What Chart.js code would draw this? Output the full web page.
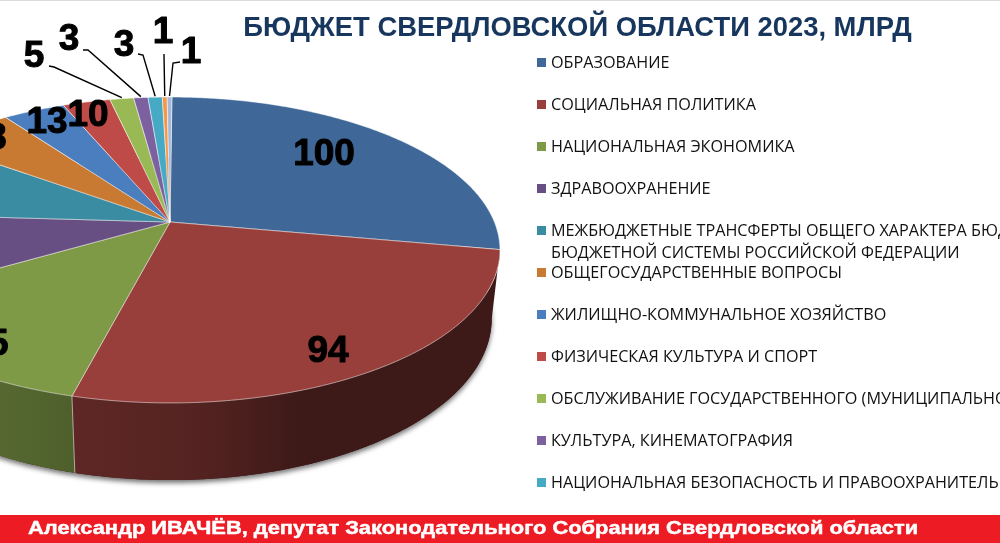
<!DOCTYPE html>
<html lang="ru">
<head>
<meta charset="utf-8">
<title>Бюджет Свердловской области 2023</title>
<script src="https://cdn.jsdelivr.net/npm/chart.js@4"></script>
<style>
  html, body { margin: 0; padding: 0; background: #fff; overflow: hidden; }
  canvas { display: block; }
</style>
</head>
<body>
<canvas id="budgetChart" width="1000" height="543"></canvas>
<script>
const chartTitle = 'БЮДЖЕТ СВЕРДЛОВСКОЙ ОБЛАСТИ 2023, МЛРД';
const footerText = 'Александр ИВАЧЁВ, депутат Законодательного Собрания Свердловской области';

const categories = [
    'ОБРАЗОВАНИЕ',
    'СОЦИАЛЬНАЯ ПОЛИТИКА',
    'НАЦИОНАЛЬНАЯ ЭКОНОМИКА',
    'ЗДРАВООХРАНЕНИЕ',
    'МЕЖБЮДЖЕТНЫЕ ТРАНСФЕРТЫ ОБЩЕГО ХАРАКТЕРА БЮДЖЕТАМ\nБЮДЖЕТНОЙ СИСТЕМЫ РОССИЙСКОЙ ФЕДЕРАЦИИ',
    'ОБЩЕГОСУДАРСТВЕННЫЕ ВОПРОСЫ',
    'ЖИЛИЩНО-КОММУНАЛЬНОЕ ХОЗЯЙСТВО',
    'ФИЗИЧЕСКАЯ КУЛЬТУРА И СПОРТ',
    'ОБСЛУЖИВАНИЕ ГОСУДАРСТВЕННОГО (МУНИЦИПАЛЬНОГО) ДОЛГА',
    'КУЛЬТУРА, КИНЕМАТОГРАФИЯ',
    'НАЦИОНАЛЬНАЯ БЕЗОПАСНОСТЬ И ПРАВООХРАНИТЕЛЬНАЯ ДЕЯТЕЛЬНОСТЬ',
    'СРЕДСТВА МАССОВОЙ ИНФОРМАЦИИ',
    'ОХРАНА ОКРУЖАЮЩЕЙ СРЕДЫ'
];
const values = [100, 94, 45, 34, 33, 18, 13, 10, 5, 3, 3, 1, 1];
const sliceColors = ['#3f6899', '#983f3c', '#7e9a47', '#674f84', '#3a8ca3', '#c87a32', '#4b7ebe',
    '#be4b48', '#98b954', '#7d60a0', '#46aac5', '#f79646', '#a5b8d8'];

// where the value labels sit (centre of the text)
const labelX = [324, 328, -12, null, null, -14, 47, 88, 34, 69, 124, 163, 191];
const labelY = [153, 350, 343, null, null, 137, 121, 114, 55, 38, 44, 31, 51];
// leader lines only for the small slices: label end and knee
const leaderStart = { 8: [49, 66], 9: [83, 50], 10: [138, 54], 11: [164, 54], 12: [180, 62] };
const leaderKnee = { 8: [54, 67], 9: [88, 50], 10: [143, 55], 11: [164, 55], 12: [173, 63] };

// perspective of the tilted disc
const pie = { cx: 170, cy: 222, k: 324.4, d: 107.2, c: -0.183, depth: 75, far: 0.025 };

function project(theta, r, lower) {
    const x = Math.sin(theta) * r;
    const y = -Math.cos(theta) * r;
    const w = 1 + pie.c * y + (lower ? pie.far : 0);
    return [pie.cx + pie.k * x / w, (pie.cy + pie.d * y + (lower ? pie.depth : 0)) / w];
}

function shade(hex, f) {
    const n = parseInt(hex.slice(1), 16);
    return `rgb(${Math.round((n >> 16) * f)},${Math.round(((n >> 8) & 255) * f)},${Math.round((n & 255) * f)})`;
}

function arcPoints(from, to, lower) {
    const pts = [];
    const steps = Math.max(2, Math.ceil((to - from) / 0.01));
    for (let i = 0; i <= steps; i++) {
        pts.push(project(from + (to - from) * i / steps, 1, lower));
    }
    return pts;
}

function tracePath(ctx, pts) {
    ctx.beginPath();
    pts.forEach((p, i) => i ? ctx.lineTo(p[0], p[1]) : ctx.moveTo(p[0], p[1]));
    ctx.closePath();
}

const tiltedPie = {
    id: 'tiltedPie',
    beforeDatasetsDraw(chart) {
        const ctx = chart.ctx;
        const arcs = chart.getDatasetMeta(0).data;
        const frontStart = 100.5 * Math.PI / 180;
        const frontEnd = 259.5 * Math.PI / 180;

        // soft shadow under the body
        ctx.save();
        ctx.shadowColor = 'rgba(0,0,0,0.55)';
        ctx.shadowBlur = 5;
        ctx.shadowOffsetY = 3;
        ctx.fillStyle = '#3c1a17';
        tracePath(ctx, arcPoints(0, Math.PI * 2, true));
        ctx.fill();
        ctx.restore();

        // side walls
        arcs.forEach((arc, i) => {
            const from = Math.max(arc.startAngle + Math.PI / 2, frontStart);
            const to = Math.min(arc.endAngle + Math.PI / 2, frontEnd);
            if (to <= from) return;
            const grad = ctx.createLinearGradient(0, 0, 500, 0);
            grad.addColorStop(0, shade(sliceColors[i], 0.68));
            grad.addColorStop(0.15, shade(sliceColors[i], 0.62));
            grad.addColorStop(0.4, shade(sliceColors[i], 0.55));
            grad.addColorStop(0.6, shade(sliceColors[i], 0.4));
            grad.addColorStop(1, shade(sliceColors[i], 0.4));
            ctx.fillStyle = grad;
            tracePath(ctx, arcPoints(from, to, false).concat(arcPoints(from, to, true).reverse()));
            ctx.fill();

            const a = project(from, 1, false);
            const b = project(from, 1, true);
            if (from > frontStart) {
                ctx.strokeStyle = 'rgba(255,255,255,0.55)';
                ctx.lineWidth = 1;
                ctx.beginPath();
                ctx.moveTo(a[0], a[1]);
                ctx.lineTo(b[0], b[1]);
                ctx.stroke();
            }
        });

        // top of the disc
        arcs.forEach((arc, i) => {
            const from = arc.startAngle + Math.PI / 2;
            const to = arc.endAngle + Math.PI / 2;
            tracePath(ctx, [project(0, 0, false)].concat(arcPoints(from, to, false)));
            ctx.fillStyle = sliceColors[i];
            ctx.fill();
            ctx.strokeStyle = 'rgba(255,255,255,0.5)';
            ctx.lineWidth = 1;
            ctx.stroke();
        });
        return false;
    },
    afterDraw(chart) {
        const ctx = chart.ctx;
        const arcs = chart.getDatasetMeta(0).data;

        // leader lines
        ctx.strokeStyle = '#000';
        ctx.lineWidth = 1.4;
        Object.keys(leaderStart).forEach(key => {
            const arc = arcs[key];
            const end = project((arc.startAngle + arc.endAngle) / 2 + Math.PI / 2, 1, false);
            ctx.beginPath();
            ctx.moveTo(leaderStart[key][0], leaderStart[key][1]);
            ctx.lineTo(leaderKnee[key][0], leaderKnee[key][1]);
            ctx.lineTo(end[0], end[1] - 1);
            ctx.stroke();
        });

        // value labels, a touch heavier than plain bold
        ctx.fillStyle = '#000';
        ctx.font = 'bold 37px "Liberation Sans"';
        ctx.textAlign = 'center';
        ctx.textBaseline = 'middle';
        ctx.lineWidth = 1;
        ctx.lineJoin = 'round';
        values.forEach((v, i) => {
            if (labelX[i] === null) return;
            ctx.strokeText(String(v), labelX[i], labelY[i] + 2);
            ctx.fillText(String(v), labelX[i], labelY[i] + 2);
        });

        // legend rows
        ctx.textAlign = 'left';
        ctx.font = '16.2px "Open Sans"';
        categories.forEach((name, i) => {
            const rowY = 62 + i * 42;
            if (rowY > 500) return;
            ctx.fillStyle = sliceColors[i];
            ctx.fillRect(537, rowY - 4, 9, 9);
            ctx.fillStyle = '#111';
            name.split('\n').forEach((line, n) => ctx.fillText(line, 551, rowY + 1 + n * 22));
        });

        // title
        ctx.fillStyle = '#17365d';
        ctx.font = 'bold 27.4px "Liberation Sans"';
        ctx.textAlign = 'center';
        ctx.fillText(chartTitle, 577.5, 28);

        // red band
        ctx.fillStyle = '#ed1c24';
        ctx.fillRect(0, 515, 1000, 28);
        ctx.fillStyle = '#fff';
        ctx.strokeStyle = '#fff';
        ctx.lineWidth = 0.5;
        ctx.font = 'bold 19px "Liberation Sans"';
        ctx.textAlign = 'left';
        ctx.save();
        ctx.translate(28, 529);
        ctx.scale(1.151, 1);
        ctx.strokeText(footerText, 0, 0);
        ctx.fillText(footerText, 0, 0);
        ctx.restore();

        ctx.fillStyle = '#dcdcdc';
        ctx.fillRect(0, 0, 1000, 1);
    }
};

new Chart(document.getElementById('budgetChart'), {
    type: 'pie',
    data: {
        labels: categories,
        datasets: [{ data: values, backgroundColor: sliceColors }]
    },
    options: {
        responsive: false,
        animation: false,
        rotation: 0.4,
        plugins: {
            legend: { display: false },
            tooltip: { enabled: false }
        }
    },
    plugins: [tiltedPie]
});
</script>
</body>
</html>
